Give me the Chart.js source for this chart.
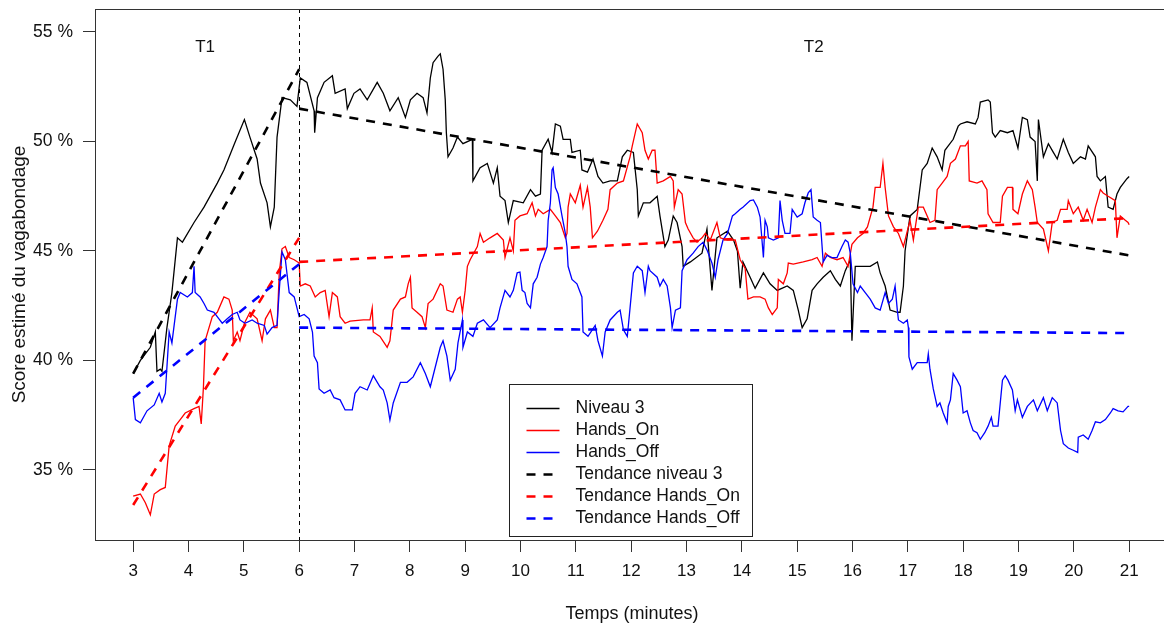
<!DOCTYPE html>
<html>
<head>
<meta charset="utf-8">
<script src="https://cdn.jsdelivr.net/npm/chart.js@4"></script>
<style>
  body { margin: 0; background: #fff; overflow: hidden; }
  #wrap { width: 1175px; height: 627px; position: relative; }
</style>
</head>
<body>
<div id="wrap"><canvas id="graph-vagabondage"></canvas></div>
<script>
// Score estimé du vagabondage (%) en fonction du temps (minutes)
const niveau3Temps = [3.00,3.13,3.31,3.40,3.43,3.49,3.52,3.61,3.70,3.80,3.89,4.10,4.28,4.52,4.64,4.83,5.01,5.11,5.24,5.30,5.42,5.48,5.55,5.60,5.69,5.84,5.96,6.02,6.14,6.27,6.28,6.33,6.45,6.60,6.65,6.83,6.87,6.99,7.10,7.23,7.41,7.52,7.64,7.79,7.92,8.01,8.13,8.24,8.31,8.37,8.42,8.51,8.55,8.60,8.64,8.66,8.69,8.78,8.86,8.96,9.13,9.14,9.27,9.40,9.51,9.58,9.63,9.72,9.78,9.87,10.05,10.18,10.27,10.36,10.39,10.50,10.57,10.63,10.72,10.77,10.90,10.93,11.08,11.11,11.21,11.31,11.40,11.49,11.62,11.75,11.84,11.93,12.04,12.11,12.13,12.22,12.34,12.47,12.52,12.61,12.67,12.76,12.83,12.92,12.94,13.07,13.28,13.37,13.46,13.55,13.74,13.85,13.92,13.97,14.02,14.15,14.24,14.39,14.51,14.64,14.82,14.93,15.02,15.09,15.18,15.27,15.36,15.47,15.60,15.69,15.78,15.87,15.96,15.99,16.05,16.19,16.32,16.45,16.50,16.59,16.68,16.81,16.86,16.92,16.95,17.04,17.17,17.26,17.35,17.44,17.53,17.62,17.67,17.82,17.91,17.95,18.07,18.22,18.27,18.31,18.45,18.49,18.53,18.58,18.67,18.80,18.90,18.99,19.07,19.16,19.21,19.30,19.34,19.36,19.45,19.54,19.63,19.70,19.81,19.90,19.99,20.12,20.21,20.26,20.39,20.42,20.48,20.57,20.62,20.71,20.78,20.84,20.96,21.00];
const niveau3Score = [39.4,40.0,40.6,41.3,39.5,39.6,39.5,41.5,43.1,45.6,45.4,46.3,47.0,48.1,48.7,49.9,51.0,50.2,49.2,48.1,47.2,46.1,47.0,50.2,52.0,51.9,51.6,52.9,52.7,51.4,50.4,52.0,52.7,53.0,52.2,52.4,51.5,52.2,52.4,51.9,52.7,52.2,51.4,52.0,51.1,51.9,52.2,52.0,51.3,52.9,53.6,53.9,54.0,53.3,51.9,50.4,49.3,49.7,50.2,49.9,50.1,48.2,48.8,49.0,48.1,48.8,47.5,47.3,46.3,47.3,47.2,47.8,47.5,47.6,49.6,50.1,49.5,50.8,50.7,50.1,50.1,49.5,49.6,48.7,48.6,49.2,48.4,48.1,48.2,48.2,49.3,49.6,49.5,47.8,46.6,47.2,47.2,47.5,46.6,45.2,45.5,46.6,46.3,45.2,44.3,44.5,44.9,46.0,43.2,45.6,45.9,45.5,45.0,43.3,44.5,43.8,43.3,44.0,43.5,43.2,43.4,43.2,42.3,41.5,41.9,43.2,43.5,43.8,44.1,43.7,43.4,44.1,44.6,40.9,44.3,44.3,44.3,44.5,44.0,43.4,42.3,42.2,42.2,43.4,45.0,46.6,46.9,48.7,49.0,49.7,49.3,48.7,49.6,50.1,50.7,50.8,50.9,50.8,51.1,51.8,51.9,51.8,50.4,50.2,50.5,50.4,50.5,49.7,51.1,51.0,50.2,50.0,48.2,51.0,49.3,49.9,49.5,49.2,50.1,49.5,49.0,49.3,49.2,49.8,49.3,48.4,48.2,48.4,47.0,46.9,47.6,47.9,48.3,48.4];

const handsOnTemps = [3.00,3.13,3.22,3.31,3.38,3.49,3.58,3.65,3.76,3.85,3.94,4.10,4.19,4.23,4.27,4.30,4.43,4.52,4.64,4.73,4.79,4.81,4.88,4.93,5.01,5.11,5.24,5.33,5.39,5.48,5.55,5.60,5.64,5.69,5.75,5.82,5.91,6.00,6.02,6.11,6.20,6.29,6.38,6.47,6.54,6.60,6.69,6.74,6.83,6.92,7.16,7.28,7.32,7.34,7.46,7.59,7.64,7.70,7.83,7.92,7.97,8.01,8.04,8.13,8.22,8.28,8.33,8.42,8.55,8.60,8.67,8.78,8.86,8.91,8.95,9.00,9.04,9.09,9.22,9.27,9.33,9.45,9.58,9.69,9.72,9.81,9.87,9.90,9.99,10.12,10.21,10.27,10.32,10.41,10.54,10.63,10.72,10.81,10.84,10.86,10.90,10.99,11.08,11.13,11.21,11.26,11.30,11.39,11.49,11.58,11.62,11.75,11.86,11.98,12.02,12.11,12.20,12.25,12.31,12.38,12.43,12.47,12.58,12.71,12.76,12.78,12.85,12.92,12.98,13.03,13.12,13.19,13.28,13.34,13.43,13.55,13.61,13.74,13.88,13.97,14.06,14.11,14.21,14.33,14.42,14.48,14.55,14.64,14.66,14.75,14.82,14.84,14.93,15.11,15.27,15.36,15.45,15.51,15.60,15.72,15.83,15.92,15.99,16.09,16.19,16.27,16.37,16.41,16.50,16.55,16.59,16.65,16.74,16.83,16.92,16.99,17.04,17.10,17.19,17.28,17.35,17.40,17.49,17.53,17.62,17.71,17.77,17.86,17.95,18.04,18.09,18.11,18.25,18.34,18.43,18.45,18.54,18.67,18.71,18.80,18.89,18.90,18.99,19.07,19.16,19.25,19.30,19.34,19.45,19.54,19.61,19.70,19.76,19.88,19.90,19.99,20.08,20.17,20.24,20.33,20.39,20.48,20.53,20.62,20.75,20.78,20.84,20.93,20.98,21.00];
const handsOnScore = [33.8,33.9,33.5,32.95,33.9,34.1,34.2,36.1,37.0,37.3,37.6,37.8,37.9,37.1,38.8,40.9,42.0,42.2,42.9,42.8,42.3,40.9,41.3,40.9,41.7,42.2,41.9,40.9,41.9,42.3,41.5,41.5,44.0,45.1,45.2,44.7,44.6,44.45,43.4,43.5,43.4,42.9,43.1,43.2,42.0,43.1,42.9,42.0,41.7,41.8,41.85,41.85,42.4,41.3,41.1,40.6,40.9,42.3,42.8,42.9,43.5,43.8,42.4,42.2,42.0,41.5,42.6,42.8,43.5,43.4,42.3,42.2,42.8,42.9,42.2,43.2,44.3,44.6,45.2,45.8,45.4,45.6,45.8,45.5,44.7,45.6,45.0,46.4,46.6,46.7,47.2,46.6,46.9,46.7,46.9,46.6,46.3,45.6,45.8,47.0,47.6,47.2,48.0,47.0,47.9,47.0,45.6,45.9,46.4,46.9,47.8,48.1,48.2,49.3,49.8,50.8,50.4,49.6,49.2,49.6,49.6,48.1,48.2,48.4,48.2,47.0,47.8,47.6,46.3,46.0,45.6,45.4,45.6,45.8,45.5,46.3,45.6,45.5,45.5,44.6,44.2,42.8,42.9,42.9,42.8,42.4,42.1,42.4,43.7,43.5,44.0,44.45,44.4,44.5,44.6,44.7,44.3,44.9,44.7,44.6,44.7,44.3,45.3,45.6,45.8,46.1,47.0,47.9,47.9,49.0,47.9,46.6,46.1,45.8,45.2,45.9,46.4,45.5,47.0,47.0,46.6,46.3,46.4,47.8,48.1,48.4,49.0,49.2,49.8,49.8,50.0,48.2,48.1,48.2,47.8,46.7,46.3,46.3,47.5,47.9,47.9,46.9,46.7,47.6,48.2,47.8,47.0,46.3,46.0,45.0,46.3,46.4,46.9,46.9,47.3,46.7,47.0,46.4,46.9,46.3,47.0,47.8,47.65,47.5,47.3,45.6,46.6,46.4,46.3,46.2];

const handsOffTemps = [3.00,3.04,3.13,3.25,3.38,3.47,3.52,3.58,3.65,3.70,3.80,3.85,3.98,4.07,4.10,4.12,4.21,4.28,4.34,4.46,4.55,4.61,4.70,4.79,4.88,4.93,5.02,5.15,5.24,5.37,5.42,5.51,5.60,5.64,5.69,5.75,5.82,5.91,5.96,6.00,6.09,6.18,6.24,6.27,6.33,6.36,6.45,6.56,6.63,6.74,6.83,6.96,7.01,7.10,7.23,7.34,7.46,7.52,7.59,7.64,7.70,7.83,7.95,8.06,8.19,8.28,8.37,8.46,8.55,8.60,8.67,8.73,8.82,8.87,8.95,8.96,9.04,9.14,9.22,9.33,9.45,9.58,9.63,9.72,9.81,9.87,9.94,9.99,10.03,10.08,10.12,10.18,10.23,10.30,10.36,10.41,10.48,10.50,10.54,10.57,10.59,10.63,10.68,10.75,10.81,10.84,10.86,10.93,11.02,11.11,11.13,11.22,11.35,11.40,11.48,11.53,11.62,11.75,11.80,11.86,11.93,11.98,12.04,12.11,12.20,12.25,12.31,12.34,12.47,12.52,12.58,12.65,12.71,12.74,12.80,12.89,12.92,13.01,13.12,13.21,13.30,13.37,13.46,13.52,13.57,13.66,13.74,13.83,13.88,13.97,14.02,14.15,14.21,14.28,14.33,14.39,14.42,14.46,14.48,14.57,14.66,14.69,14.73,14.78,14.87,14.91,15.00,15.09,15.14,15.20,15.25,15.29,15.36,15.42,15.47,15.54,15.63,15.72,15.81,15.87,15.92,15.96,16.01,16.09,16.14,16.23,16.32,16.41,16.50,16.59,16.65,16.72,16.77,16.81,16.83,16.92,16.99,17.01,17.02,17.08,17.17,17.28,17.35,17.37,17.40,17.46,17.53,17.58,17.64,17.71,17.73,17.77,17.82,17.89,17.95,18.00,18.07,18.13,18.18,18.25,18.31,18.39,18.45,18.51,18.54,18.63,18.71,18.76,18.81,18.89,18.94,18.98,19.07,19.16,19.27,19.34,19.45,19.52,19.61,19.70,19.76,19.81,19.90,19.99,20.07,20.08,20.17,20.26,20.33,20.39,20.48,20.57,20.66,20.71,20.80,20.89,20.98,21.00];
const handsOffScore = [38.3,37.3,37.15,37.7,37.97,38.5,38.1,38.5,41.3,40.8,42.8,43.1,42.9,43.1,44.3,43.1,42.9,42.6,42.3,42.2,41.9,41.7,41.9,42.1,42.2,41.85,41.7,41.85,41.7,41.6,41.2,41.5,41.6,43.2,44.95,44.6,43.1,42.9,42.4,42.0,42.1,41.9,41.3,40.2,39.9,38.7,38.5,38.65,38.3,38.2,37.74,37.74,38.5,38.8,38.65,39.3,38.8,38.65,38.06,37.28,38.06,39.0,39.0,39.25,39.9,39.4,38.8,39.7,40.6,40.9,40.2,39.1,39.6,40.8,41.85,40.6,41.3,41.1,41.7,41.85,41.5,41.85,42.4,43.2,42.9,43.2,44.0,44.04,43.2,43.1,42.6,42.4,43.5,43.8,44.4,44.7,45.2,46.4,47.2,48.7,48.8,47.9,47.6,46.6,45.8,45.2,44.3,43.7,43.5,42.9,41.3,41.1,41.6,40.9,40.2,41.3,41.85,42.2,42.3,41.4,41.1,42.4,44.0,44.3,44.1,43.1,44.3,44.1,43.8,43.4,43.7,43.4,42.4,41.5,42.3,42.4,44.1,44.6,44.9,45.2,45.4,45.05,44.45,43.8,44.6,45.5,45.8,46.6,46.7,46.9,47.0,47.3,47.33,47.0,46.55,44.7,46.4,46.1,45.6,45.5,45.6,47.3,46.4,45.8,45.8,46.9,46.55,46.7,47.2,47.65,47.8,46.55,46.4,46.3,44.5,44.8,44.7,44.7,45.2,45.5,45.4,44.9,43.5,43.1,43.4,43.1,42.8,42.4,42.3,43.1,42.6,42.8,43.4,42.3,41.85,41.7,41.85,41.5,40.16,39.6,39.9,39.9,39.9,40.3,39.6,38.7,37.9,38.06,37.6,37.15,37.9,38.2,39.4,39.1,38.8,37.6,37.7,37.15,36.8,36.7,36.4,36.7,37.0,37.4,37.0,37.0,39.1,39.3,39.1,38.65,37.7,38.2,37.4,37.9,38.2,37.7,38.3,37.7,38.3,38.06,36.8,36.2,36.0,35.9,35.8,36.5,36.6,36.4,36.8,37.2,37.15,37.3,37.6,37.8,37.7,37.65,37.9,37.9];

// Tendances T1 (3 -> 6 min) et T2 (6 -> 21 min), null = coupure
const tendanceTemps = [3, 6, 6, 6, 21];
const tendanceNiveau3 = [39.4, 53.3, null, 51.5, 44.8];
const tendanceHandsOn = [33.4, 45.6, null, 44.5, 46.5];
const tendanceHandsOff = [38.3, 44.4, null, 41.5, 41.25];

const ticksTemps = [3,4,5,6,7,8,9,10,11,12,13,14,15,16,17,18,19,20,21];
const ticksScore = [35, 40, 45, 50, 55];
const separationT1T2 = 6;
const periodeLabels = ['T1', 'T2'];
const periodeTemps = [4.3, 15.3];
const periodeScore = 54.3;

const POLICE = "'Liberation Sans', Arial, sans-serif";

function points(temps, score) {
  return temps.map((t, i) => ({ x: t, y: score[i] }));
}

// cadre, ligne verticale T1/T2, textes T1 / T2
const cadrePlugin = {
  id: 'cadre',
  afterDatasetsDraw(chart) {
    const { ctx, chartArea: a, scales: { x, y } } = chart;
    ctx.save();
    const xs = Math.round(x.getPixelForValue(separationT1T2)) + 0.5;
    ctx.strokeStyle = '#000';
    ctx.lineWidth = 1;
    ctx.setLineDash([4, 4]);
    ctx.beginPath();
    ctx.moveTo(xs, a.top);
    ctx.lineTo(xs, a.bottom);
    ctx.stroke();
    ctx.setLineDash([]);
    ctx.strokeStyle = '#333';
    ctx.strokeRect(Math.round(a.left) + 0.5, Math.round(a.top) + 0.5, a.right - a.left, a.bottom - a.top);
    ctx.fillStyle = '#111';
    ctx.font = '17px ' + POLICE;
    ctx.textAlign = 'center';
    ctx.textBaseline = 'middle';
    periodeLabels.forEach((lab, i) => {
      ctx.fillText(lab, x.getPixelForValue(periodeTemps[i]), y.getPixelForValue(periodeScore));
    });
    ctx.restore();
  }
};

// légende façon R, en bas au centre
const legendePlugin = {
  id: 'legendeR',
  afterDraw(chart) {
    const { ctx, chartArea: a } = chart;
    const ds = chart.data.datasets;
    const w = 243, rowH = 22, h = ds.length * rowH + 20;
    const left = Math.round((a.left + a.right) / 2 - w / 2) - 1.5;
    const top = Math.round(a.bottom - 4 - h) + 0.5;
    ctx.save();
    ctx.fillStyle = '#fff';
    ctx.fillRect(left, top, w, h);
    ctx.strokeStyle = '#222';
    ctx.lineWidth = 1;
    ctx.strokeRect(left, top, w, h);
    ctx.font = '17.5px ' + POLICE;
    ctx.textBaseline = 'middle';
    ctx.textAlign = 'left';
    ds.forEach((d, i) => {
      const cy = top + 24 + i * rowH;
      ctx.strokeStyle = d.borderColor;
      ctx.lineWidth = d.borderWidth;
      ctx.setLineDash(d.borderDash || []);
      ctx.beginPath();
      ctx.moveTo(left + 17, cy);
      ctx.lineTo(left + 50, cy);
      ctx.stroke();
      ctx.setLineDash([]);
      ctx.fillStyle = '#111';
      ctx.fillText(d.label, left + 66, cy);
    });
    ctx.restore();
  }
};

const serie = (label, data, color, order) => ({
  label, data, borderColor: color, borderWidth: 1.3, pointRadius: 0, tension: 0, order, spanGaps: false
});
const tendance = (label, score, color, order) => ({
  label, data: points(tendanceTemps, score), borderColor: color, borderWidth: 2.6,
  borderDash: [9, 8], borderCapStyle: 'butt', pointRadius: 0, tension: 0, order, spanGaps: false
});

const ctx = document.getElementById('graph-vagabondage').getContext('2d');
new Chart(ctx, {
  type: 'line',
  data: {
    datasets: [
      serie('Niveau 3', points(niveau3Temps, niveau3Score), '#000000', 6),
      serie('Hands_On', points(handsOnTemps, handsOnScore), '#ff0000', 5),
      serie('Hands_Off', points(handsOffTemps, handsOffScore), '#0000ff', 4),
      tendance('Tendance niveau 3', tendanceNiveau3, '#000000', 3),
      tendance('Tendance Hands_On', tendanceHandsOn, '#ff0000', 2),
      tendance('Tendance Hands_Off', tendanceHandsOff, '#0000ff', 1)
    ]
  },
  options: {
    responsive: true,
    maintainAspectRatio: false,
    animation: false,
    layout: { padding: { top: 9, right: 6, left: 0, bottom: 0 } },
    plugins: { legend: { display: false }, tooltip: { enabled: false } },
    scales: {
      x: {
        type: 'linear',
        min: 2.31,
        max: 21.72,
        afterFit: s => { s.height = 87; s.paddingLeft = 0; s.paddingRight = 0; },
        afterBuildTicks: s => { s.ticks = ticksTemps.map(v => ({ value: v })); },
        grid: { drawOnChartArea: false, tickLength: 12, color: '#333' },
        border: { display: false },
        ticks: { color: '#111', padding: 9, maxRotation: 0, autoSkip: false, font: { family: POLICE, size: 17 } },
        title: { display: true, text: 'Temps (minutes)', color: '#111', padding: { top: 0, bottom: 2 }, font: { family: POLICE, size: 18 } }
      },
      y: {
        min: 31.8,
        max: 56.05,
        afterFit: s => { s.width = 95; s.paddingTop = 0; s.paddingBottom = 0; },
        afterBuildTicks: s => { s.ticks = ticksScore.map(v => ({ value: v })); },
        grid: { drawOnChartArea: false, tickLength: 12, color: '#333' },
        border: { display: false },
        ticks: { color: '#111', padding: 10, font: { family: POLICE, size: 17.5 }, callback: v => v + ' %' },
        title: { display: true, text: 'Score estimé du vagabondage', color: '#111', padding: { top: 8, bottom: 0 }, font: { family: POLICE, size: 19 } }
      }
    }
  },
  plugins: [cadrePlugin, legendePlugin]
});
</script>
</body>
</html>
